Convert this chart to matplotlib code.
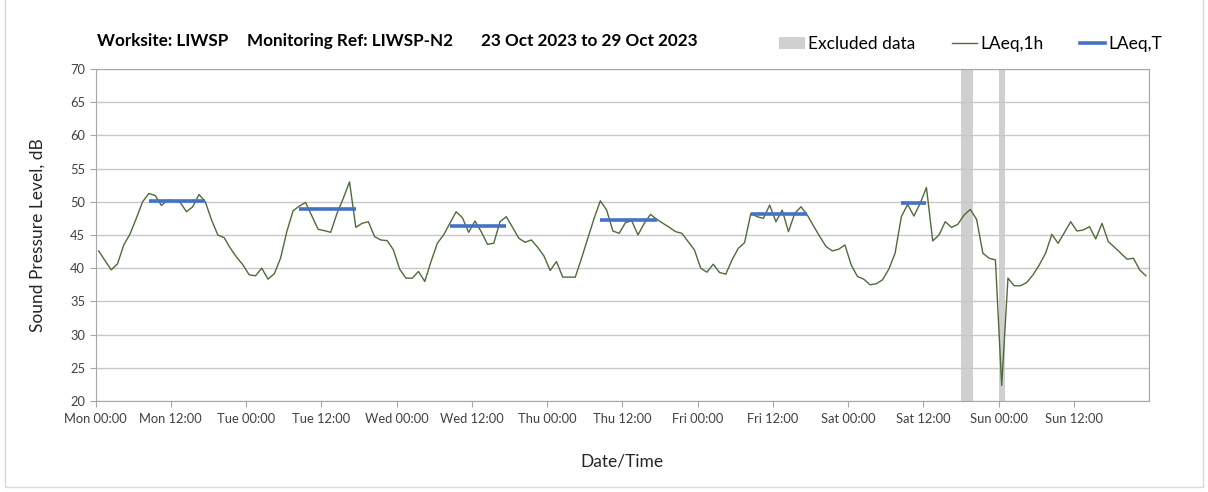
import numpy as np
import matplotlib
matplotlib.use("Agg")
import matplotlib.pyplot as plt
from matplotlib.patches import Patch, Rectangle
from matplotlib.lines import Line2D

plt.rcParams['font.family'] = ['Lato', 'DejaVu Sans']

# hourly LAeq,1h values, dB (one list per day, 00:00 to 23:00)
mon = [42.6, 41.15, 39.75, 40.65, 43.5, 45.15, 47.5, 50, 51.25, 50.95, 49.45, 50.25,
       50.15, 49.9, 48.5, 49.25, 51.1, 50, 47.25, 45, 44.6, 43, 41.65, 40.5]
tue = [39, 38.85, 40, 38.35, 39.15, 41.5, 45.5, 48.65, 49.35, 49.9, 47.85, 45.85,
       45.65, 45.4, 48.25, 50.5, 53, 46.15, 46.75, 47, 44.75, 44.25, 44.15, 42.75]
wed = [39.85, 38.5, 38.5, 39.5, 38, 41, 43.75, 45, 46.75, 48.5, 47.6, 45.4,
       47.1, 45.5, 43.6, 43.75, 47, 47.75, 46.15, 44.5, 43.9, 44.25, 43.15, 41.85]
thu = [39.65, 41, 38.65, 38.65, 38.65, 41.5, 44.5, 47.5, 50.15, 48.75, 45.6, 45.25,
       46.85, 47.15, 45, 46.75, 48.1, 47.35, 46.75, 46.15, 45.5, 45.25, 44, 42.75]
fri = [40, 39.4, 40.6, 39.35, 39.1, 41.25, 43, 43.85, 48.25, 47.75, 47.5, 49.5,
       47, 48.75, 45.5, 48.25, 49.25, 48, 46.35, 44.75, 43.25, 42.6, 42.85, 43.5]
sat = [40.5, 38.75, 38.35, 37.5, 37.65, 38.25, 39.85, 42.25, 47.75, 49.6, 47.85, 49.75,
       52.15, 44.1, 45, 47, 46.15, 46.6, 48, 48.85, 47.35, 42.25, 41.5, 41.25]
sun = [22.35, 38.5, 37.35, 37.35, 37.85, 39, 40.5, 42.25, 45.1, 43.75, 45.35, 47,
       45.6, 45.75, 46.25, 44.4, 46.75, 44, 43.15, 42.25, 41.35, 41.5, 39.75, 38.85]

# LAeq,T periods (hour index from Mon 00:00)
laeqt_start = [8, 32, 56, 80, 104, 128]
laeqt_end = [17, 41, 65, 89, 113, 132]
laeqt_value = [50.15, 48.85, 46.4, 47.3, 48.15, 49.75]

# excluded periods (hours from Mon 00:00)
excl_start = [138, 144]
excl_end = [140, 145]

tick_labels = ['Mon 00:00', 'Mon 12:00', 'Tue 00:00', 'Tue 12:00', 'Wed 00:00', 'Wed 12:00',
               'Thu 00:00', 'Thu 12:00', 'Fri 00:00', 'Fri 12:00', 'Sat 00:00', 'Sat 12:00',
               'Sun 00:00', 'Sun 12:00']

title_parts = ['Worksite: LIWSP', 'Monitoring Ref: LIWSP-N2', '23 Oct 2023 to 29 Oct 2023']

GREEN = '#4e6b3a'
BLUE = '#4472c4'
GREY_BAND = '#d0d0d0'
TXT = '#262626'


def main():
    levels = np.array(mon + tue + wed + thu + fri + sat + sun)
    hours = np.arange(len(levels)) + 0.5

    fig = plt.figure(figsize=(12.08, 4.92), dpi=100)
    ax = fig.add_axes([0.0791, 0.185, 0.8721, 0.6748])

    for s, e in zip(excl_start, excl_end):
        ax.axvspan(s, e, color=GREY_BAND, lw=0, zorder=1)

    ax.plot(hours, levels, color=GREEN, lw=1.0, zorder=3)
    for s, e, v in zip(laeqt_start, laeqt_end, laeqt_value):
        ax.plot([s + 0.5, e + 0.5], [v, v], color=BLUE, lw=2.6, zorder=4, solid_capstyle='butt')

    ax.set_xlim(0, 168)
    ax.set_ylim(20, 70)
    ax.set_yticks(np.arange(20, 71, 5))
    ax.set_xticks(np.arange(0, 168, 12))
    ax.set_xticklabels(tick_labels)
    ax.set_xticks(np.arange(0, 169, 24), minor=True)

    ax.grid(axis='y', color='#c8c8c8', lw=1.0, zorder=0)
    ax.grid(axis='x', which='minor', color='#dedede', lw=1.0, zorder=0)
    for sp in ax.spines.values():
        sp.set_color('#a6a6a6')
    ax.tick_params(axis='both', which='major', direction='out', length=4, color='#a6a6a6',
                   labelsize=9.3, labelcolor='#404040')
    ax.tick_params(axis='x', which='minor', length=0)
    ax.tick_params(axis='x', pad=5)

    ax.set_ylabel('Sound Pressure Level, dB', fontsize=12.5, color=TXT, labelpad=18)
    ax.set_xlabel('Date/Time', fontsize=12.5, color=TXT, labelpad=20)

    # title split in three pieces as in the original header
    for x_px, part in zip([97, 247, 481], title_parts):
        fig.text(x_px / 1208, 1 - 41 / 492, part, fontsize=12.3, fontweight='bold',
                 color='black', ha='left', va='center')

    handles = [Patch(facecolor=GREY_BAND, edgecolor='none'),
               Line2D([], [], color=GREEN, lw=1.0),
               Line2D([], [], color=BLUE, lw=2.6)]
    fig.legend(handles, ['Excluded data', 'LAeq,1h', 'LAeq,T'], loc='center',
               bbox_to_anchor=(971 / 1208, 1 - 44 / 492), ncol=3, frameon=False,
               fontsize=12.5, handlelength=1.45, handletextpad=0.2, columnspacing=2.1)

    fig.patches.append(Rectangle((0.004, 0.01), 0.992, 1.2, transform=fig.transFigure,
                                 fill=False, edgecolor='#d9d9d9', lw=1.0))

    fig.savefig('out.png', dpi=100, facecolor='white')


if __name__ == '__main__':
    main()
